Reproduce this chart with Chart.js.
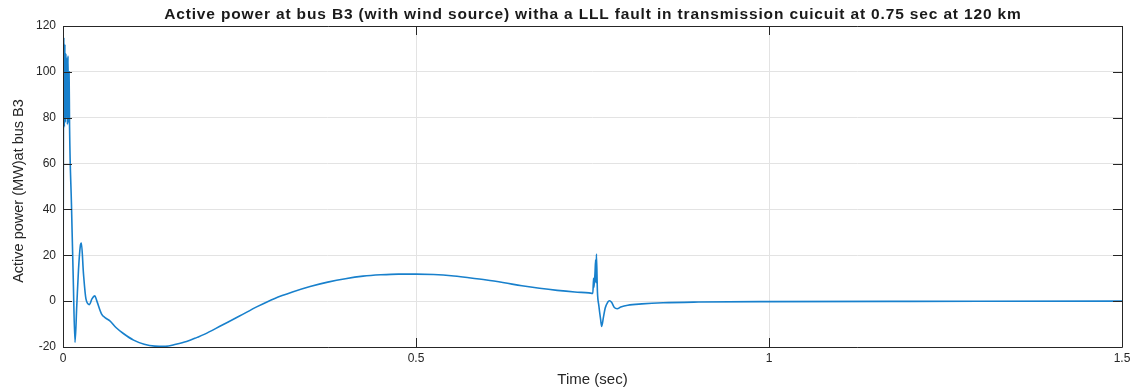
<!DOCTYPE html>
<html>
<head>
<meta charset="utf-8">
<script src="https://cdn.jsdelivr.net/npm/chart.js@4/dist/chart.umd.min.js"></script>
<style>
  html, body { margin: 0; padding: 0; background: #fff; }
  #wrap { width: 1139px; height: 391px; position: relative; }
</style>
</head>
<body>
<div id="wrap"><canvas id="c" width="1139" height="391"></canvas></div>
<script>
// Simulated active power at bus B3, time in seconds, power in MW
const timeSec = [
  0, 0.0012, 0.0019, 0.0027, 0.0034, 0.0041, 0.0049, 0.0056, 0.0063, 0.0071, 0.0078, 0.0086, 0.0093,
  0.012, 0.0145, 0.017, 0.0195, 0.022, 0.0245, 0.026, 0.029, 0.0325, 0.0375, 0.041, 0.045, 0.048,
  0.0545, 0.06, 0.066, 0.075, 0.085, 0.1, 0.115, 0.13, 0.145, 0.16, 0.175, 0.19, 0.2,
  0.225, 0.25, 0.275, 0.3, 0.325, 0.35, 0.375, 0.4, 0.425, 0.45, 0.475, 0.5,
  0.525, 0.55, 0.575, 0.6, 0.625, 0.65, 0.675, 0.7, 0.725, 0.745,
  0.7505, 0.7515, 0.752, 0.7535, 0.7545, 0.755, 0.7555, 0.757, 0.759, 0.7615, 0.763, 0.7655,
  0.768, 0.7715, 0.774, 0.777, 0.781, 0.785, 0.79, 0.8, 0.82, 0.85, 0.9, 1.0, 1.2, 1.5
];
const powerMW = [
  -5, 115, 76, 112, 78, 108, 80, 106, 77, 107, 78, 100, 76,
  42, 10, -18, -2, 14, 24, 25.3, 12, 1, -1.5, 1, 2.3, 0,
  -5.5, -7.3, -8.5, -11.5, -14, -17, -18.8, -19.6, -19.7, -18.8, -17.6, -15.8, -14.5,
  -10.5, -6.5, -2.4, 1.2, 4.0, 6.4, 8.3, 9.8, 10.9, 11.5, 11.8, 11.8,
  11.6, 11.1, 10.2, 9.2, 8.0, 6.7, 5.6, 4.7, 4.0, 3.6,
  3.4, 10, 6, 12, 18, 8, 20.5, 4, -2, -8, -11, -7,
  -3, -0.5, 0.2, -0.5, -2.8, -3.3, -2.6, -1.8, -1.2, -0.7, -0.4, -0.2, -0.1, 0
];
const xTicks = [0, 0.5, 1, 1.5];
const yTicks = [-20, 0, 20, 40, 60, 80, 100, 120];
const xTickLabels = ['0', '0.5', '1', '1.5'];

const titleText = 'Active power at bus B3 (with wind source) witha a LLL fault in transmission cuicuit at 0.75 sec at 120 km';
const xTitle = 'Time (sec)';
const yTitle = 'Active power (MW)at bus B3';

const FONT = 'Arial, "Liberation Sans", Helvetica, sans-serif';
const AX = '#262626';

// Draws a centred label, optionally spread to a given width with letter spacing
function spacedText(ctx, text, x, y, font, width) {
  ctx.font = font;
  ctx.letterSpacing = '0px';
  const w = ctx.measureText(text).width;
  const sp = width ? Math.max(0, (width - w) / text.length) : 0;
  ctx.letterSpacing = sp.toFixed(2) + 'px';
  ctx.textAlign = 'center';
  ctx.textBaseline = 'middle';
  ctx.fillText(text, x + sp / 2, y);
  ctx.letterSpacing = '0px';
}

// Box around the axes with inward-pointing ticks, plus title and axis labels
const boxPlugin = {
  id: 'box',
  afterDraw(chart) {
    const { ctx, chartArea: a, scales } = chart;
    const len = 9;
    const cx = (a.left + a.right) / 2;
    ctx.save();
    ctx.strokeStyle = AX;
    ctx.lineWidth = 1;
    ctx.beginPath();
    ctx.rect(Math.round(a.left) + 0.5, Math.round(a.top) + 0.5,
             Math.round(a.right - a.left), Math.round(a.bottom - a.top));
    ctx.stroke();
    ctx.beginPath();
    xTicks.forEach(v => {
      const x = Math.round(scales.x.getPixelForValue(v)) + 0.5;
      ctx.moveTo(x, a.bottom); ctx.lineTo(x, a.bottom - len);
      ctx.moveTo(x, a.top); ctx.lineTo(x, a.top + len);
    });
    yTicks.forEach(v => {
      const y = Math.round(scales.y.getPixelForValue(v)) + 0.5;
      ctx.moveTo(a.left, y); ctx.lineTo(a.left + len, y);
      ctx.moveTo(a.right, y); ctx.lineTo(a.right - len, y);
    });
    ctx.stroke();

    ctx.fillStyle = '#1a1a1a';
    spacedText(ctx, titleText, cx, 15, 'bold 15.5px ' + FONT, 858);
    ctx.fillStyle = AX;
    spacedText(ctx, xTitle, cx, 380, '15px ' + FONT, 0);
    ctx.save();
    ctx.translate(19, 191);
    ctx.rotate(-Math.PI / 2);
    spacedText(ctx, yTitle, 0, 0, '14.5px ' + FONT, 0);
    ctx.restore();
    ctx.restore();
  }
};

new Chart(document.getElementById('c'), {
  type: 'line',
  data: {
    datasets: [{
      data: timeSec.map((t, i) => ({ x: t, y: powerMW[i] })),
      borderColor: 'rgb(24,128,204)',
      borderWidth: 1.6,
      pointRadius: 0,
      cubicInterpolationMode: 'monotone',
      fill: false
    }]
  },
  options: {
    responsive: false,
    animation: false,
    devicePixelRatio: 1,
    layout: { padding: { left: 0, right: 17, top: 26, bottom: 0 } },
    plugins: { legend: { display: false }, tooltip: { enabled: false } },
    scales: {
      x: {
        type: 'linear', min: 0, max: 1.5,
        afterBuildTicks: s => { s.ticks = xTicks.map(v => ({ value: v })); },
        afterFit: s => { s.height = 44; },
        ticks: {
          callback: (v) => xTickLabels[xTicks.indexOf(v)] ?? '',
          color: AX, font: { family: FONT, size: 12 }, padding: 4, maxRotation: 0
        },
        grid: { color: '#e3e3e3', lineWidth: 1, drawTicks: false },
        border: { display: false }
      },
      y: {
        type: 'linear', min: -20, max: 120,
        afterBuildTicks: s => { s.ticks = yTicks.map(v => ({ value: v })); },
        afterFit: s => { s.width = 63; },
        ticks: { color: AX, font: { family: FONT, size: 12 }, padding: 7 },
        grid: { color: '#e3e3e3', lineWidth: 1, drawTicks: false },
        border: { display: false }
      }
    }
  },
  plugins: [boxPlugin]
});
</script>
</body>
</html>
